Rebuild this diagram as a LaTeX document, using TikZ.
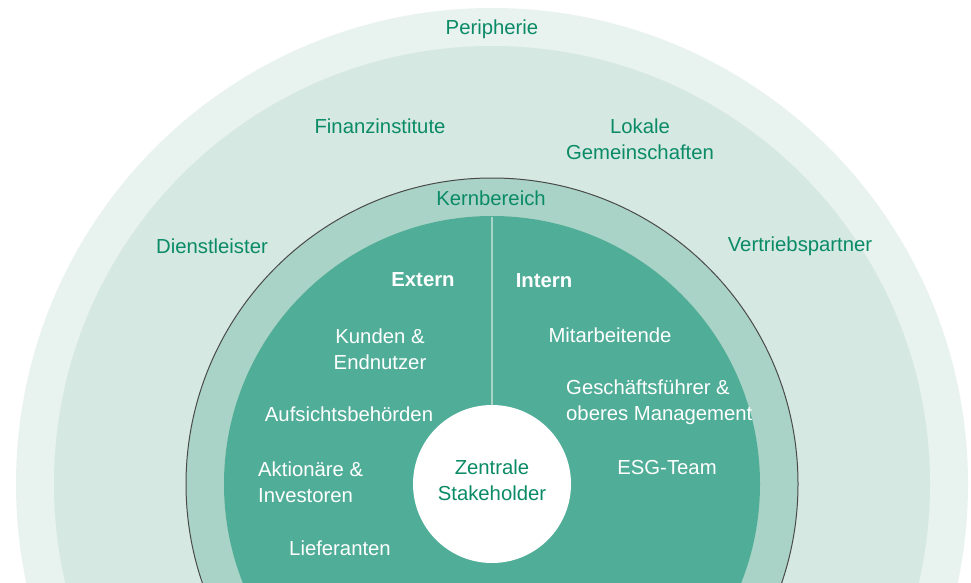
\documentclass[tikz,border=0pt]{standalone}
\usepackage{fontspec}
\setmainfont{Liberation Sans}
\definecolor{ringA}{HTML}{E8F2EF}
\definecolor{ringB}{HTML}{D5E8E2}
\definecolor{ringC}{HTML}{A9D3C6}
\definecolor{coreT}{HTML}{50AD97}
\definecolor{txtG}{HTML}{0A8B66}
\definecolor{edgeG}{HTML}{4A4A4A}
\begin{document}
\begin{tikzpicture}[x=1pt,y=-1pt,
  lbl/.style={inner sep=0pt,font=\fontsize{20.3}{26.5}\selectfont,align=center},
  glbl/.style={lbl,text=txtG},
  wlbl/.style={lbl,text=white},
  wbold/.style={wlbl,font=\fontsize{20.3}{26.5}\selectfont\bfseries}]
\useasboundingbox (0,0) rectangle (971,583);
\clip (0,0) rectangle (971,583);
\fill[white] (0,0) rectangle (971,583);
\fill[ringA] (492,960) arc[start angle=270,end angle=630,radius=476pt];
\fill[ringB] (492,922) arc[start angle=270,end angle=630,radius=438pt];
\fill[ringC] (492,790) arc[start angle=270,end angle=630,radius=306pt];
\draw[edgeG,line width=1pt] (492,790) arc[start angle=270,end angle=630,radius=306pt];
\fill[coreT] (492,752) arc[start angle=270,end angle=630,radius=268pt];
\node[circle,fill=white,minimum size=158pt,inner sep=0pt] (zentrum) at (492,484) {};
\coordinate (oben) at (492,217);
\draw[ringC,line width=1.6pt] (oben) -- (zentrum.north);
% labels
\node[glbl] (peri) at (492,29) {Peripherie};
\node[glbl] (finanz) at (380,126) {Finanzinstitute};
\node[glbl] (lokal) at (640,139) {Lokale\\Gemeinschaften};
\node[glbl] (kern) at (491,198) {Kernbereich};
\node[glbl] (dienst) at (212,246) {Dienstleister};
\node[glbl] (vertrieb) at (800,246) {Vertriebspartner};
\node[wbold] (extern) at (423,280) {Extern};
\node[wbold] (intern) at (544,281) {Intern};
\node[wlbl] (kunden) at (380,349) {Kunden \&\\Endnutzer};
\node[wlbl] (mitarb) at (610,335) {Mitarbeitende};
\node[wlbl] (aufsicht) at (349,414) {Aufsichtsbehörden};
\node[wlbl,align=left,anchor=west] (gf) at (566,402) {Geschäftsführer \&\\oberes Management};
\node[wlbl,align=left,anchor=west] (aktion) at (258,482) {Aktionäre \&\\Investoren};
\node[wlbl] (esg) at (667,468) {ESG-Team};
\node[glbl] (zentral) at ([yshift=4pt]zentrum) {Zentrale\\Stakeholder};
\node[wlbl] (liefer) at (340,548) {Lieferanten};
\end{tikzpicture}
\end{document}
